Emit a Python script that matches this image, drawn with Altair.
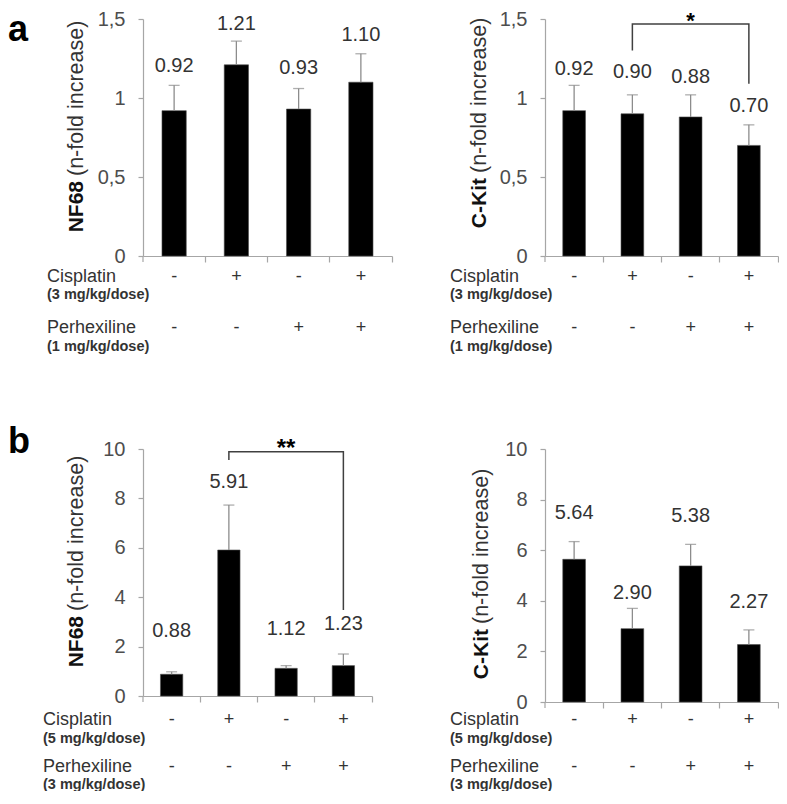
import altair as alt
import pandas as pd

# ---------------- data ----------------
cats = ["1", "2", "3", "4"]
cisplatin = ["-", "+", "-", "+"]
perhexiline = ["-", "-", "+", "+"]

# panel a, NF68
a_nf68_mean = [0.92, 1.21, 0.93, 1.10]
a_nf68_err = [1.08, 1.36, 1.06, 1.28]
a_nf68_label_y = [1.20, 1.47, 1.19, 1.40]
a_nf68_text = ["0.92", "1.21", "0.93", "1.10"]

# panel a, C-Kit
a_ckit_mean = [0.92, 0.90, 0.88, 0.70]
a_ckit_err = [1.08, 1.02, 1.02, 0.83]
a_ckit_label_y = [1.185, 1.164, 1.133, 0.949]
a_ckit_text = ["0.92", "0.90", "0.88", "0.70"]
a_ckit_bracket_cat = ["2", "2", "4", "4"]
a_ckit_bracket_y = [1.30, 1.468, 1.468, 1.09]
a_ckit_star = ["*"]
a_ckit_star_cat = ["3"]
a_ckit_star_y = [1.445]

# panel b, NF68
b_nf68_mean = [0.88, 5.91, 1.12, 1.23]
b_nf68_err = [0.98, 7.73, 1.23, 1.70]
b_nf68_label_y = [2.64, 8.66, 2.70, 2.91]
b_nf68_text = ["0.88", "5.91", "1.12", "1.23"]
b_nf68_bracket_cat = ["2", "2", "4", "4"]
b_nf68_bracket_y = [9.55, 9.89, 9.89, 3.48]
b_nf68_star = ["**"]
b_nf68_star_cat = ["3"]
b_nf68_star_y = [9.73]

# panel b, C-Kit
b_ckit_mean = [5.64, 2.90, 5.38, 2.27]
b_ckit_err = [6.34, 3.70, 6.23, 2.85]
b_ckit_label_y = [7.47, 4.31, 7.35, 3.96]
b_ckit_text = ["5.64", "2.90", "5.38", "2.27"]

a_ticks = [0, 0.5, 1, 1.5]
b_ticks = [0, 2, 4, 6, 8, 10]

AX = "#a6a6a6"
ERR = "#8c8c8c"
TXT = "#333333"
FONT = "Liberation Sans"


def one_text(text, x, y, **kw):
    return alt.Chart(pd.DataFrame({"t": [text]})).mark_text(**kw).encode(
        x=alt.value(x), y=alt.value(y), text="t:N"
    )


def panel(mean, err, lab_y, lab_txt, domain, ticks, width, height, yrange, axis_off,
          title_bold, title_x, title_y, row_x, row_ys, dose1, dose2,
          bracket_cat=None, bracket_y=None, star=None, star_cat=None, star_y=None,
          star_size=24, letter=None, letter_y=0):
    df = pd.DataFrame({"cat": cats, "mean": mean, "err": err, "laby": lab_y,
                       "lab": lab_txt, "cis": cisplatin, "per": perhexiline})
    xs = alt.Scale(domain=cats, paddingInner=0, paddingOuter=0)
    ys = alt.Scale(domain=domain, range=yrange, nice=False, zero=False)
    x_axis = alt.Axis(title=None, labels=False, ticks=True, tickSize=6, bandPosition=1,
                      domainColor=AX, tickColor=AX, offset=axis_off, grid=False,
                      domainWidth=1.2, tickWidth=1.2)
    y_axis = alt.Axis(title=None, values=ticks,
                      labelExpr="replace(toString(datum.value), '.', ',')",
                      tickSize=5, labelPadding=13, labelFontSize=20, labelColor="#4d4d4d",
                      domainColor=AX, tickColor=AX, grid=False, labelFont=FONT,
                      domainWidth=1.2, tickWidth=1.2)
    Xn = alt.X("cat:N", scale=xs)
    base = alt.Chart(df)
    bars = base.mark_bar(color="black", stroke="#4d4d4d", strokeWidth=0.6,
                         width=alt.RelativeBandSize(0.39)).encode(
        x=alt.X("cat:N", scale=xs, axis=x_axis),
        y=alt.Y("mean:Q", scale=ys, axis=y_axis),
    )
    errs = base.mark_rule(color=ERR, strokeWidth=1.3).encode(
        x=Xn, y=alt.Y("mean:Q", scale=ys), y2="err:Q")
    caps = base.mark_tick(color=ERR, thickness=1.3, size=11).encode(
        x=Xn, y=alt.Y("err:Q", scale=ys))
    labels = base.mark_text(fontSize=20, color=TXT, baseline="middle").encode(
        x=Xn, y=alt.Y("laby:Q", scale=ys), text="lab:N")
    cis_t = base.mark_text(fontSize=18, color=TXT, baseline="middle").encode(
        x=Xn, y=alt.value(row_ys[0]), text="cis:N")
    per_t = base.mark_text(fontSize=18, color=TXT, baseline="middle").encode(
        x=Xn, y=alt.value(row_ys[2]), text="per:N")
    layers = [bars, errs, caps, labels, cis_t, per_t]
    layers.append(one_text("Cisplatin", row_x, row_ys[0], align="left", baseline="middle",
                           fontSize=18, color=TXT))
    layers.append(one_text(dose1, row_x, row_ys[1], align="left", baseline="middle",
                           fontSize=14.5, fontWeight="bold", color=TXT))
    layers.append(one_text("Perhexiline", row_x, row_ys[2], align="left", baseline="middle",
                           fontSize=18, color=TXT))
    layers.append(one_text(dose2, row_x, row_ys[3], align="left", baseline="middle",
                           fontSize=14.5, fontWeight="bold", color=TXT))
    layers.append(one_text(title_bold, title_x, title_y, angle=270, align="right",
                           baseline="middle", fontSize=21, fontWeight="bold", color="#111111"))
    layers.append(one_text("(n-fold increase)", title_x, title_y, angle=270, align="left",
                           baseline="middle", fontSize=21.5, color=TXT, dx=5))
    ax_y = height + axis_off
    layers.append(alt.Chart(pd.DataFrame({"d": [0]})).mark_rule(color=AX, strokeWidth=1.2).encode(
        x=alt.value(0), y=alt.value(ax_y), y2=alt.value(ax_y + 6)))
    if bracket_cat is not None:
        bdf = pd.DataFrame({"cat": bracket_cat, "v": bracket_y, "o": [0, 1, 2, 3]})
        layers.append(alt.Chart(bdf).mark_line(color="#404040", strokeWidth=1.5).encode(
            x=Xn, y=alt.Y("v:Q", scale=ys), order="o:Q"))
        sdf = pd.DataFrame({"cat": star_cat, "v": star_y, "t": star})
        layers.append(alt.Chart(sdf).mark_text(fontSize=star_size, fontWeight="bold",
                                               baseline="alphabetic", color="black").encode(
            x=Xn, y=alt.Y("v:Q", scale=ys), text="t:N"))
    if letter is not None:
        layers.append(one_text(letter, -135, letter_y, align="left", baseline="alphabetic",
                               fontSize=36, fontWeight="bold", color="black"))
    return alt.layer(*layers).properties(width=width, height=height)


top_rows = [258, 276, 309, 328]
bot_rows = [271, 290, 318, 336]

tl = panel(a_nf68_mean, a_nf68_err, a_nf68_label_y, a_nf68_text, [0, 1.5], a_ticks,
           249, 237, [237, 0], 0, "NF68", -66, 162, -96, top_rows,
           "(3 mg/kg/dose)", "(1 mg/kg/dose)", letter="a", letter_y=22)
tr = panel(a_ckit_mean, a_ckit_err, a_ckit_label_y, a_ckit_text, [0, 1.5], a_ticks,
           233, 237, [237, 0], 0, "C-Kit", -65, 159, -95, top_rows,
           "(3 mg/kg/dose)", "(1 mg/kg/dose)",
           bracket_cat=a_ckit_bracket_cat, bracket_y=a_ckit_bracket_y,
           star=a_ckit_star, star_cat=a_ckit_star_cat, star_y=a_ckit_star_y, star_size=22)
bl = panel(b_nf68_mean, b_nf68_err, b_nf68_label_y, b_nf68_text, [0, 10], b_ticks,
           229, 247, [247, 0], 0, "NF68", -66, 167, -100, bot_rows,
           "(5 mg/kg/dose)", "(3 mg/kg/dose)",
           bracket_cat=b_nf68_bracket_cat, bracket_y=b_nf68_bracket_y,
           star=b_nf68_star, star_cat=b_nf68_star_cat, star_y=b_nf68_star_y,
           letter="b", letter_y=4)
br = panel(b_ckit_mean, b_ckit_err, b_ckit_label_y, b_ckit_text, [0, 10], b_ticks,
           233, 247, [253, 0], 6, "C-Kit", -63, 180, -95, bot_rows,
           "(5 mg/kg/dose)", "(3 mg/kg/dose)")

chart = alt.concat(tl, tr, bl, br, columns=2, spacing={"row": 193, "column": 153},
                   bounds="flush").properties(
    autosize=alt.AutoSizeParams(type="none"),
    padding={"left": 135, "top": 11, "right": 636, "bottom": 772},
    background="white",
).configure(font=FONT).configure_view(stroke=None)

chart.save("out.html", embed_options={"renderer": "svg", "actions": False})
